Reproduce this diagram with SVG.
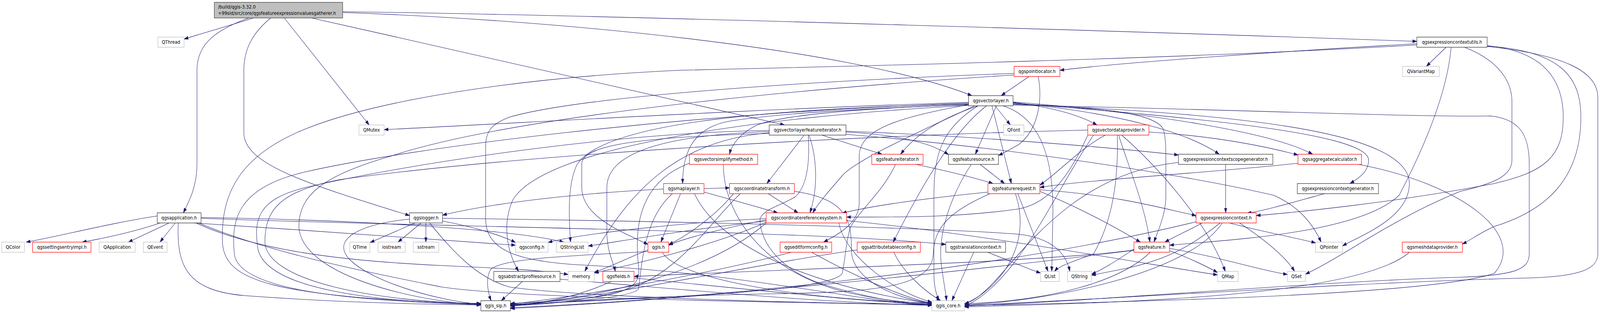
<svg xmlns="http://www.w3.org/2000/svg" width="4711" height="799" viewBox="0 0 4711 799">
<style>
text{font-family:"DejaVu Sans","Liberation Sans",sans-serif;font-size:12.7px;fill:#000;text-anchor:middle}
.node rect{fill:#fff;stroke-width:1.3}
.b rect{stroke:#333}
.g rect{stroke:#bfbfbf}
.r rect{stroke:#ff0000}
.m rect{fill:#bfbfbf;stroke:#404040}
.m text{text-anchor:start}
#edges path{fill:none;stroke:#191970;stroke-width:1.1;marker-end:url(#a)}
</style>
<defs>
<marker id="a" markerUnits="userSpaceOnUse" markerWidth="13" markerHeight="9" viewBox="0 0 13 9" refX="12.5" refY="4.5" orient="auto"><path d="M0,0.3 L13,4.5 L0,8.7 z" fill="#191970" stroke="#191970" stroke-width="0.6"/></marker>
</defs>
<rect width="4711" height="799" fill="#fff"/>
<g id="diagram" transform="scale(0.8694,1)">
<g id="edges">
<path d="M746,46 C690,62 600,84 542,100"/>
<path d="M733,46 C640,75 580,110 580,180 L580,420 C580,475 560,510 540,545"/>
<path d="M797,46 C750,80 718,120 718,180 L718,340 C718,420 900,470 1206,552"/>
<path d="M837,46 L1087,320"/>
<path d="M917,46 C1400,140 1900,240 2310,320"/>
<path d="M1009,32 C1600,50 2500,120 2862,245"/>
<path d="M1009,30 C1800,38 3600,88 4172,106"/>
<path d="M463,553 C320,572 170,606 77,620"/>
<path d="M472,571 C400,592 320,608 242,620"/>
<path d="M498,571 L378,620"/>
<path d="M516,571 L471,620"/>
<path d="M570,571 C900,590 1300,612 1518,628"/>
<path d="M592,557 C1000,562 1500,585 1660,620"/>
<path d="M592,559 C1200,580 2400,590 2785,626"/>
<path d="M577,571 C750,640 1000,668 1300,680 C1500,688 1600,692 1673,703"/>
<path d="M525,571 C518,690 560,745 720,757 C950,772 1200,779 1416,781"/>
<path d="M585,571 C800,650 1100,700 1300,735 C1500,760 2000,770 2744,781"/>
<path d="M1222,571 L1090,621"/>
<path d="M1240,571 L1172,620"/>
<path d="M1254,571 L1254,620"/>
<path d="M1303,566 C1400,582 1480,604 1518,621"/>
<path d="M1265,571 C1330,640 1400,710 1500,735 C1700,760 2300,775 2744,780"/>
<path d="M1303,559 C2000,566 2800,585 3000,600 C3100,610 3140,650 3150,695"/>
<path d="M1206,561 C1050,575 975,615 1030,665 C1100,725 1300,772 1416,779"/>
<path d="M2852,262 C2200,280 1600,312 1131,332"/>
<path d="M2862,268 C2600,275 2320,290 2230,320 C2180,340 2155,370 2148,395"/>
<path d="M2858,267 C2500,280 2300,290 2150,310 C2050,325 2010,380 2010,470"/>
<path d="M2880,271 C2780,300 2700,340 2652,395"/>
<path d="M2934,271 L2872,395"/>
<path d="M2921,271 L2978,470"/>
<path d="M2930,271 L2975,320"/>
<path d="M2953,271 C3060,300 3105,400 3100,560 L3097,695"/>
<path d="M2905,271 C2800,340 2700,500 2630,620"/>
<path d="M2852,268 C2650,300 2530,330 2530,400 L2530,520 C2530,570 2470,600 2425,620"/>
<path d="M2983,262 C3100,275 3180,295 3230,320"/>
<path d="M2983,263 C3300,290 3500,340 3590,395"/>
<path d="M2983,261 C3400,290 3750,340 3865,395"/>
<path d="M2983,264 C3500,300 4030,340 4030,410 C4030,440 4000,457 3975,470"/>
<path d="M2983,266 C3250,275 3400,290 3425,330 C3433,350 3433,380 3433,420 L3433,500 C3433,550 3410,590 3398,620"/>
<path d="M2265,337 C2000,345 1787,380 1787,480 L1787,600 C1790,650 1805,670 1812,695"/>
<path d="M2265,340 C2000,360 1850,480 1722,695"/>
<path d="M2852,266 C2200,280 1780,320 1700,420 C1670,470 1675,560 1680,620"/>
<path d="M2265,342 C1900,350 1713,370 1713,420 L1713,480 C1713,560 1850,600 1908,626"/>
<path d="M2852,270 C2200,300 1600,380 1510,512 C1480,570 1490,640 1527,695"/>
<path d="M2880,271 C2770,330 2750,400 2750,500 L2750,700 C2750,740 2760,760 2765,770"/>
<path d="M2852,264 C2000,290 1200,380 900,440 C700,480 680,560 690,650 C700,740 1000,770 1416,780"/>
<path d="M2870,271 C2700,340 2520,410 2480,450 C2440,490 2410,520 2393,545"/>
<path d="M2983,267 C3600,290 4150,330 4150,470 C4150,560 4000,605 3953,630"/>
<path d="M2983,269 C3700,282 4150,300 4390,297 C4470,305 4503,340 4503,420 L4503,650 C4503,690 4460,705 4300,710 C3900,720 3200,772 2840,784"/>
<path d="M2368,346 L2258,470"/>
<path d="M2382,346 C2405,400 2410,480 2385,545"/>
<path d="M2420,346 L2597,395"/>
<path d="M2491,338 C2640,345 2740,365 2793,396"/>
<path d="M2491,336 C2900,350 3300,380 3470,397"/>
<path d="M2380,346 C2385,420 2375,480 2340,505 C2290,530 2250,535 2238,560 C2236,620 2300,700 2450,735 C2550,760 2650,778 2744,781"/>
<path d="M2265,334 C1800,340 1200,420 900,480 C760,510 745,560 760,640 C790,740 1100,775 1416,777"/>
<path d="M2491,344 C3000,380 3500,450 3750,500 C3830,530 3870,580 3890,620"/>
<path d="M4258,121 L4200,170"/>
<path d="M4172,112 C3800,130 3300,160 3121,180"/>
<path d="M4172,115 C3500,150 2500,170 2000,180 C1500,200 1100,260 900,330 C700,400 650,500 655,620 C660,720 800,760 1416,779"/>
<path d="M4379,117 C4540,130 4603,200 4603,300 C4603,400 4550,440 4400,470 C4100,520 3800,545 3699,552"/>
<path d="M4379,118 C4600,130 4655,200 4655,300 C4655,460 4550,540 4400,580 C4350,600 4330,615 4306,625"/>
<path d="M4379,119 C4600,140 4705,180 4705,250 L4705,650 C4705,690 4650,708 4500,712 C4000,722 3200,770 2840,782"/>
<path d="M4273,121 C4260,250 4180,400 4120,500 C4000,600 3600,615 3444,628"/>
<path d="M4312,121 C4400,150 4452,200 4452,260 L4452,410 C4452,450 4400,470 4300,490 C4100,560 3950,660 3844,702"/>
<path d="M3030,196 L2948,245"/>
<path d="M3057,196 C3070,250 3060,330 3000,370 C2970,385 2955,392 2940,398"/>
<path d="M2986,188 C2300,210 1700,250 1500,300 C1440,320 1430,340 1430,380 L1430,560 C1430,640 1520,668 1700,678 C2200,700 2550,775 2744,782"/>
<path d="M2986,192 C2300,230 1500,300 1150,400 C950,450 880,500 880,580 C885,700 1200,770 1416,781"/>
<path d="M3294,346 C3320,420 3370,520 3386,620"/>
<path d="M3303,346 C3400,420 3550,560 3608,695"/>
<path d="M3255,346 C3180,380 3120,440 3062,474"/>
<path d="M3290,346 C3293,450 3280,560 3220,650 C3160,670 3120,680 3105,695"/>
<path d="M3383,338 C3600,350 3750,380 3822,397"/>
<path d="M3220,346 C3100,500 3000,720 2840,785"/>
<path d="M3203,333 C2400,350 1500,400 1000,460 C820,490 780,540 780,620 C785,720 1100,772 1416,778"/>
<path d="M3203,346 C3150,450 3090,520 3000,535 C2800,560 2600,555 2493,556"/>
<path d="M2697,421 C2800,440 2880,458 2924,470"/>
<path d="M2637,421 C2600,490 2540,530 2505,580 C2490,620 2490,660 2480,700 C2450,745 2000,760 1503,780"/>
<path d="M2886,421 L2958,470"/>
<path d="M2860,421 C2800,500 2760,600 2772,680 C2780,730 2785,750 2787,770"/>
<path d="M3609,421 L3609,545"/>
<path d="M3470,416 C3200,440 3050,600 2950,700 C2900,750 2870,770 2840,779"/>
<path d="M3822,418 C3600,440 3200,460 3062,480"/>
<path d="M4000,421 C4300,470 4500,600 4400,700 C4200,760 3200,775 2840,783"/>
<path d="M3900,496 C3800,520 3720,540 3672,546"/>
<path d="M2004,496 L1946,620"/>
<path d="M1954,484 C1700,495 1450,520 1303,551"/>
<path d="M2073,483 L2148,481"/>
<path d="M2073,492 C2150,510 2230,530 2290,545"/>
<path d="M2045,496 C2100,600 2300,720 2744,778"/>
<path d="M1980,496 C1895,560 1890,680 1880,740 C1860,765 1600,778 1503,779"/>
<path d="M2262,496 L2350,545"/>
<path d="M2339,490 C2500,510 2507,570 2507,640 C2507,720 2650,768 2744,776"/>
<path d="M2180,496 C2100,560 2000,700 1850,740 C1700,775 1600,780 1503,783"/>
<path d="M2160,496 C2100,560 2010,610 1969,626"/>
<path d="M3062,490 C3200,540 3300,590 3358,620"/>
<path d="M2997,496 L3086,695"/>
<path d="M2909,492 C2700,510 2550,530 2480,546"/>
<path d="M3062,486 C3300,500 3450,540 3522,552"/>
<path d="M2990,496 C3030,600 2980,700 2880,760 C2865,768 2850,775 2840,778"/>
<path d="M2915,496 C2800,540 2750,580 2748,650 C2745,730 2600,748 2300,752 C1900,758 1600,775 1503,784"/>
<path d="M2256,566 C2000,590 1800,622 1732,630"/>
<path d="M2256,560 C2000,570 1700,600 1614,621"/>
<path d="M2256,569 C2100,630 1850,680 1750,699"/>
<path d="M2256,563 C2100,590 2000,615 1969,628"/>
<path d="M2493,565 C2900,600 3400,680 3585,704"/>
<path d="M2470,571 C2490,660 2640,750 2744,774"/>
<path d="M2256,571 C2100,690 1800,760 1503,782"/>
<path d="M3540,571 C3500,590 3460,605 3430,620"/>
<path d="M3620,571 C3700,590 3820,610 3874,622"/>
<path d="M3650,571 C3700,600 3780,650 3812,695"/>
<path d="M3593,571 C3520,620 3450,665 3300,690 C3260,697 3230,702 3214,705"/>
<path d="M3599,571 C3500,700 3100,770 2840,781"/>
<path d="M3522,568 C2900,700 2000,770 1503,788"/>
<path d="M3339,638 C3300,660 3250,690 3214,702"/>
<path d="M3444,642 C3500,660 3560,685 3585,698"/>
<path d="M3444,636 C3600,660 3700,690 3791,703"/>
<path d="M3339,640 C3100,670 2300,690 1867,708"/>
<path d="M3387,646 C3300,720 3100,770 2840,778"/>
<path d="M3339,641 C2800,700 2000,770 1503,790"/>
<path d="M1908,640 C1850,660 1780,690 1750,697"/>
<path d="M1950,646 C2000,720 2400,770 2744,776"/>
<path d="M1908,644 C1700,655 1480,660 1445,690 C1430,710 1435,745 1446,770"/>
<path d="M1867,712 C2200,740 2500,770 2744,780"/>
<path d="M1800,721 C1700,760 1600,778 1503,781"/>
<path d="M2390,646 C2500,700 2650,760 2744,777"/>
<path d="M2330,646 C2100,700 1700,760 1503,779"/>
<path d="M2632,646 C2660,700 2730,750 2770,770"/>
<path d="M2524,640 C2200,680 1800,760 1503,783"/>
<path d="M2867,646 L2803,770"/>
<path d="M2908,646 C2980,670 3030,690 3064,699"/>
<path d="M1538,721 L1476,770"/>
<path d="M1649,715 C2000,740 2400,775 2744,782"/>
<path d="M4150,646 C4000,760 3300,775 2840,786"/>
<path d="M2130,421 C2130,550 2250,700 2500,750 C2600,770 2700,777 2744,778"/>
<path d="M2030,418 C1870,470 1870,600 1880,680 C1890,745 1840,765 1503,777"/>
</g>
<g id="n-main" class="node m"><rect x="631" y="6" width="378" height="40"/><text x="642" y="22">/build/qgis-3.32.0</text><text x="642" y="38">+99sid/src/core/qgsfeatureexpressionvaluesgatherer.h</text></g>
<g id="n-qthread" class="node g"><rect x="465" y="95" width="77" height="26"/><text x="503.5" y="112.5">QThread</text></g>
<g id="n-utils" class="node b"><rect x="4172" y="95" width="207" height="26"/><text x="4275.5" y="112.5">qgsexpressioncontextutils.h</text></g>
<g id="n-pointlocator" class="node r"><rect x="2986" y="170" width="135" height="26"/><text x="3053.5" y="187.5">qgspointlocator.h</text></g>
<g id="n-qvariantmap" class="node g"><rect x="4130" y="170" width="108" height="26"/><text x="4184" y="187.5">QVariantMap</text></g>
<g id="n-vectorlayer" class="node b"><rect x="2852" y="245" width="131" height="26"/><text x="2917.5" y="262.5">qgsvectorlayer.h</text></g>
<g id="n-qmutex" class="node g"><rect x="1057" y="320" width="74" height="26"/><text x="1094" y="337.5">QMutex</text></g>
<g id="n-vlfi" class="node b"><rect x="2265" y="320" width="226" height="26"/><text x="2378" y="337.5">qgsvectorlayerfeatureiterator.h</text></g>
<g id="n-qfont" class="node g"><rect x="2955" y="320" width="60" height="26"/><text x="2985" y="337.5">QFont</text></g>
<g id="n-vdp" class="node r"><rect x="3203" y="320" width="180" height="26"/><text x="3293" y="337.5">qgsvectordataprovider.h</text></g>
<g id="n-vsm" class="node r"><rect x="2030" y="395" width="201" height="26"/><text x="2130.5" y="412.5">qgsvectorsimplifymethod.h</text></g>
<g id="n-fi" class="node r"><rect x="2567" y="395" width="151" height="26"/><text x="2642.5" y="412.5">qgsfeatureiterator.h</text></g>
<g id="n-fs" class="node b"><rect x="2793" y="395" width="147" height="26"/><text x="2866.5" y="412.5">qgsfeaturesource.h</text></g>
<g id="n-ecsg" class="node b"><rect x="3470" y="395" width="278" height="26"/><text x="3609" y="412.5">qgsexpressioncontextscopegenerator.h</text></g>
<g id="n-agg" class="node r"><rect x="3822" y="395" width="187" height="26"/><text x="3915.5" y="412.5">qgsaggregatecalculator.h</text></g>
<g id="n-maplayer" class="node r"><rect x="1954" y="470" width="119" height="26"/><text x="2013.5" y="487.5">qgsmaplayer.h</text></g>
<g id="n-ct" class="node r"><rect x="2148" y="470" width="191" height="26"/><text x="2243.5" y="487.5">qgscoordinatetransform.h</text></g>
<g id="n-fr" class="node r"><rect x="2909" y="470" width="153" height="26"/><text x="2985.5" y="487.5">qgsfeaturerequest.h</text></g>
<g id="n-ecg" class="node b"><rect x="3820" y="470" width="239" height="26"/><text x="3939.5" y="487.5">qgsexpressioncontextgenerator.h</text></g>
<g id="n-app" class="node b"><rect x="463" y="545" width="129" height="26"/><text x="527.5" y="562.5">qgsapplication.h</text></g>
<g id="n-logger" class="node b"><rect x="1206" y="545" width="97" height="26"/><text x="1254.5" y="562.5">qgslogger.h</text></g>
<g id="n-crs" class="node r"><rect x="2256" y="545" width="237" height="26"/><text x="2374.5" y="562.5">qgscoordinatereferencesystem.h</text></g>
<g id="n-ec" class="node r"><rect x="3522" y="545" width="177" height="26"/><text x="3610.5" y="562.5">qgsexpressioncontext.h</text></g>
<g id="n-qcolor" class="node g"><rect x="5" y="620" width="67" height="26"/><text x="38.5" y="637.5">QColor</text></g>
<g id="n-settings" class="node r"><rect x="96" y="620" width="172" height="26"/><text x="182" y="637.5">qgssettingsentryimpl.h</text></g>
<g id="n-qapplication" class="node g"><rect x="292" y="620" width="106" height="26"/><text x="345" y="637.5">QApplication</text></g>
<g id="n-qevent" class="node g"><rect x="422" y="620" width="70" height="26"/><text x="457" y="637.5">QEvent</text></g>
<g id="n-qtime" class="node g"><rect x="1030" y="620" width="59" height="26"/><text x="1059.5" y="637.5">QTime</text></g>
<g id="n-iostream" class="node g"><rect x="1113" y="620" width="80" height="26"/><text x="1153" y="637.5">iostream</text></g>
<g id="n-sstream" class="node g"><rect x="1217" y="620" width="75" height="26"/><text x="1254.5" y="637.5">sstream</text></g>
<g id="n-qgsconfig" class="node g"><rect x="1518" y="620" width="96" height="26"/><text x="1566" y="637.5">qgsconfig.h</text></g>
<g id="n-qstringlist" class="node g"><rect x="1638" y="620" width="94" height="26"/><text x="1685" y="637.5">QStringList</text></g>
<g id="n-qgis" class="node r"><rect x="1908" y="620" width="61" height="26"/><text x="1938.5" y="637.5">qgis.h</text></g>
<g id="n-editform" class="node r"><rect x="2297" y="620" width="152" height="26"/><text x="2373" y="637.5">qgseditformconfig.h</text></g>
<g id="n-attrtable" class="node r"><rect x="2524" y="620" width="186" height="26"/><text x="2617" y="637.5">qgsattributetableconfig.h</text></g>
<g id="n-translation" class="node b"><rect x="2785" y="620" width="176" height="26"/><text x="2873" y="637.5">qgstranslationcontext.h</text></g>
<g id="n-feature" class="node r"><rect x="3339" y="620" width="105" height="26"/><text x="3391.5" y="637.5">qgsfeature.h</text></g>
<g id="n-qpointer" class="node g"><rect x="3874" y="620" width="79" height="26"/><text x="3913.5" y="637.5">QPointer</text></g>
<g id="n-mesh" class="node r"><rect x="4129" y="620" width="177" height="26"/><text x="4217.5" y="637.5">qgsmeshdataprovider.h</text></g>
<g id="n-profile" class="node b"><rect x="1454" y="695" width="195" height="26"/><text x="1551.5" y="712.5">qgsabstractprofilesource.h</text></g>
<g id="n-memory" class="node g"><rect x="1673" y="695" width="77" height="26"/><text x="1711.5" y="712.5">memory</text></g>
<g id="n-fields" class="node r"><rect x="1775" y="695" width="92" height="26"/><text x="1821" y="712.5">qgsfields.h</text></g>
<g id="n-qlist" class="node g"><rect x="3064" y="695" width="55" height="26"/><text x="3091.5" y="712.5">QList</text></g>
<g id="n-qstring" class="node g"><rect x="3143" y="695" width="71" height="26"/><text x="3178.5" y="712.5">QString</text></g>
<g id="n-qmap" class="node g"><rect x="3585" y="695" width="61" height="26"/><text x="3615.5" y="712.5">QMap</text></g>
<g id="n-qset" class="node g"><rect x="3791" y="695" width="53" height="26"/><text x="3817.5" y="712.5">QSet</text></g>
<g id="n-qgissip" class="node b"><rect x="1416" y="770" width="87" height="26"/><text x="1459.5" y="787.5">qgis_sip.h</text></g>
<g id="n-qgiscore" class="node g"><rect x="2744" y="770" width="96" height="26"/><text x="2792" y="787.5">qgis_core.h</text></g>
</g>
</svg>
